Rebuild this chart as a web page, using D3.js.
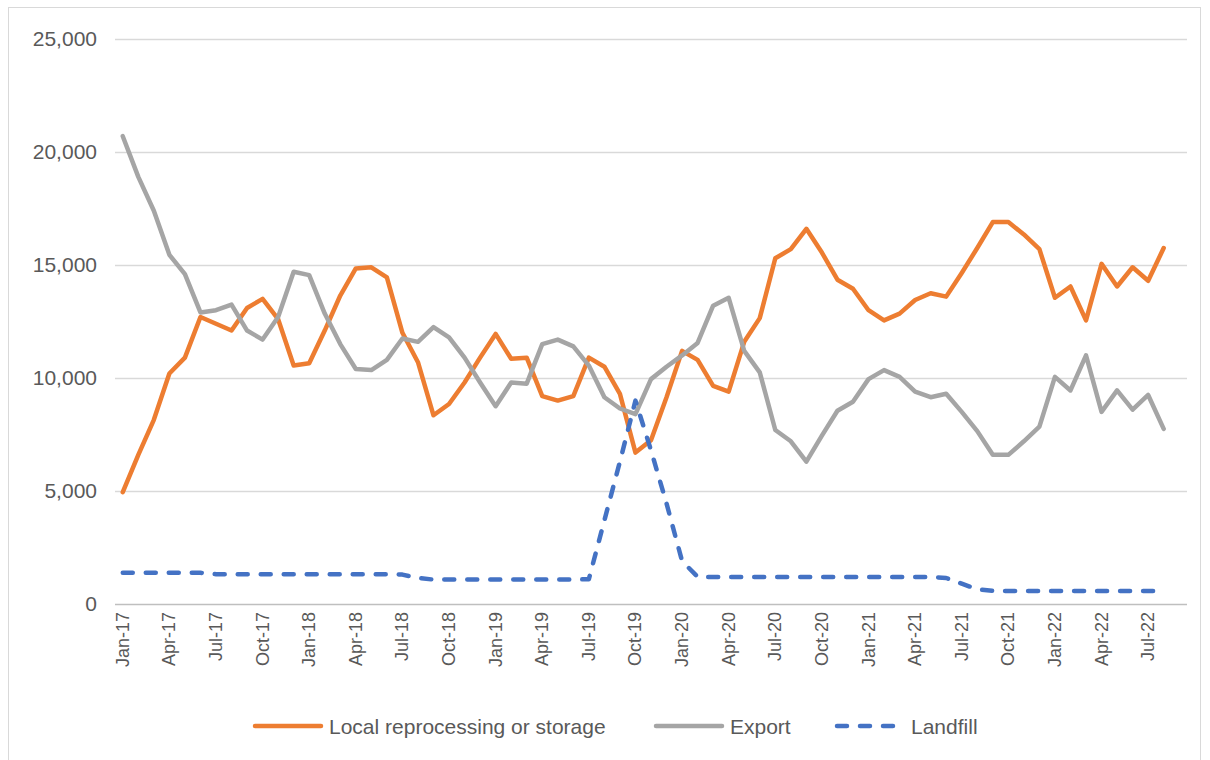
<!DOCTYPE html>
<html>
<head>
<meta charset="utf-8">
<script src="https://cdn.jsdelivr.net/npm/d3@7"></script>
<style>
  body { margin: 0; background: #fff; }
  svg { display: block; }
  text { font-family: "Liberation Sans", Arial, sans-serif; fill: #595959; }
</style>
</head>
<body>
<svg id="chart" width="1210" height="760"></svg>
<script>
// Monthly categories (the final month has no data yet)
const months = [
  "Jan-17","Feb-17","Mar-17","Apr-17","May-17","Jun-17","Jul-17","Aug-17","Sep-17","Oct-17","Nov-17","Dec-17",
  "Jan-18","Feb-18","Mar-18","Apr-18","May-18","Jun-18","Jul-18","Aug-18","Sep-18","Oct-18","Nov-18","Dec-18",
  "Jan-19","Feb-19","Mar-19","Apr-19","May-19","Jun-19","Jul-19","Aug-19","Sep-19","Oct-19","Nov-19","Dec-19",
  "Jan-20","Feb-20","Mar-20","Apr-20","May-20","Jun-20","Jul-20","Aug-20","Sep-20","Oct-20","Nov-20","Dec-20",
  "Jan-21","Feb-21","Mar-21","Apr-21","May-21","Jun-21","Jul-21","Aug-21","Sep-21","Oct-21","Nov-21","Dec-21",
  "Jan-22","Feb-22","Mar-22","Apr-22","May-22","Jun-22","Jul-22","Aug-22","Sep-22"
];

// Labelled months on the horizontal axis
const tickLabels = [
  "Jan-17","Apr-17","Jul-17","Oct-17","Jan-18","Apr-18","Jul-18","Oct-18",
  "Jan-19","Apr-19","Jul-19","Oct-19","Jan-20","Apr-20","Jul-20","Oct-20",
  "Jan-21","Apr-21","Jul-21","Oct-21","Jan-22","Apr-22","Jul-22"
];

const yTicks = [0, 5000, 10000, 15000, 20000, 25000];

// Tonnes per month, Jan-17 .. Aug-22
const localReprocessing = [
  4950, 6600, 8150, 10200, 10900, 12700, 12400, 12100, 13100, 13500, 12600, 10550,
  10650, 12100, 13650, 14850, 14900, 14450, 12000, 10700, 8350, 8850, 9800, 10900,
  11950, 10850, 10900, 9200, 9000, 9200, 10900, 10500, 9300, 6700, 7250, 9150,
  11200, 10800, 9650, 9400, 11600, 12650, 15300, 15700, 16600, 15550, 14350, 13950,
  13000, 12550, 12850, 13450, 13750, 13600, 14650, 15750, 16900, 16900, 16350, 15700,
  13550, 14050, 12550, 15050, 14050, 14900, 14300, 15750
];

const exportTonnes = [
  20700, 18900, 17400, 15450, 14600, 12900, 13000, 13250, 12100, 11700, 12700, 14700,
  14550, 12850, 11500, 10400, 10350, 10800, 11750, 11600, 12250, 11800, 10900, 9800,
  8750, 9800, 9750, 11500, 11700, 11400, 10550, 9150, 8650, 8400, 9950, 10500,
  11000, 11550, 13200, 13550, 11200, 10250, 7700, 7200, 6300, 7450, 8550, 8950,
  9950, 10350, 10050, 9400, 9150, 9300, 8500, 7650, 6600, 6600, 7200, 7850,
  10050, 9450, 11000, 8500, 9450, 8600, 9250, 7750
];

const landfill = [
  1380, 1380, 1380, 1380, 1380, 1380, 1320, 1320, 1320, 1320, 1320, 1320,
  1320, 1320, 1320, 1320, 1320, 1320, 1300, 1150, 1080, 1080, 1080, 1080,
  1080, 1080, 1080, 1080, 1080, 1080, 1100, 3700, 6300, 9000, 6800, 4450,
  1900, 1200, 1200, 1200, 1200, 1200, 1200, 1200, 1200, 1200, 1200, 1200,
  1200, 1200, 1200, 1200, 1200, 1150, 900, 650, 580, 580, 580, 580,
  580, 580, 580, 580, 580, 580, 580, 580
];

const seriesNames = ["Local reprocessing or storage", "Export", "Landfill"];
const seriesColors = ["#ED7D31", "#A5A5A5", "#4472C4"];

const series = [
  { name: seriesNames[0], values: localReprocessing, color: seriesColors[0], dash: null },
  { name: seriesNames[1], values: exportTonnes, color: seriesColors[1], dash: null },
  { name: seriesNames[2], values: landfill, color: seriesColors[2], dash: "10,13" }
];

const svg = d3.select("#chart");
const W = 1210, H = 760;
const plot = { left: 115, right: 1187, top: 39, bottom: 604 };

// Outer chart frame
svg.append("rect")
  .attr("x", 8.5).attr("y", 7.5)
  .attr("width", 1192).attr("height", 770)
  .attr("fill", "#fff")
  .attr("stroke", "#d9d9d9").attr("stroke-width", 1);

const x = d3.scaleBand().domain(months).range([plot.left, plot.right]);
const cx = m => x(m) + x.bandwidth() / 2;
const y = d3.scaleLinear().domain([0, 25000]).range([plot.bottom, plot.top]);

// Horizontal gridlines + value labels
const yAxis = d3.axisLeft(y)
  .tickValues(yTicks)
  .tickSize(-(plot.right - plot.left))
  .tickPadding(18)
  .tickFormat(d3.format(","));
const gy = svg.append("g")
  .attr("transform", `translate(${plot.left},0)`)
  .call(yAxis);
gy.select(".domain").remove();
gy.selectAll(".tick line")
  .attr("stroke", d => d === 0 ? "#bfbfbf" : "#d9d9d9")
  .attr("stroke-width", 1.5);
gy.selectAll(".tick text")
  .attr("font-size", 21)
  .attr("fill", "#595959")
  .attr("font-family", "'Liberation Sans', Arial, sans-serif");

// Category axis with rotated month labels
const xAxis = d3.axisBottom(x)
  .tickValues(tickLabels)
  .tickSize(0)
  .tickPadding(0);
const gx = svg.append("g")
  .attr("transform", `translate(0,${plot.bottom})`)
  .call(xAxis);
gx.select(".domain").remove();
gx.selectAll(".tick text")
  .attr("font-size", 18)
  .attr("fill", "#595959")
  .attr("font-family", "'Liberation Sans', Arial, sans-serif")
  .attr("text-anchor", "end")
  .attr("dy", null)
  .attr("dominant-baseline", "central")
  .attr("transform", "translate(0,8) rotate(-90)")
  .attr("x", 0).attr("y", 0);

// Series lines
const line = d3.line()
  .defined(d => d.v != null)
  .x(d => cx(d.m))
  .y(d => y(d.v));

series.forEach(s => {
  const pts = s.values.map((v, i) => ({ m: months[i], v }));
  const p = svg.append("path")
    .datum(pts)
    .attr("d", line)
    .attr("fill", "none")
    .attr("stroke", s.color)
    .attr("stroke-width", 4.5)
    .attr("stroke-linejoin", "round")
    .attr("stroke-linecap", "round");
  if (s.dash) p.attr("stroke-dasharray", s.dash);
});

// Legend
const legendItems = [
  { s: series[0], x0: 253 },
  { s: series[1], x0: 654 },
  { s: series[2], x0: 835 }
];
const ly = 726;
const lg = svg.append("g");
legendItems.forEach(it => {
  const l = lg.append("line")
    .attr("x1", it.x0 + 2).attr("x2", it.x0 + 68)
    .attr("y1", ly).attr("y2", ly)
    .attr("stroke", it.s.color)
    .attr("stroke-width", 4.5)
    .attr("stroke-linecap", "round");
  if (it.s.dash) l.attr("stroke-dasharray", it.s.dash);
  lg.append("text")
    .attr("x", it.x0 + 76)
    .attr("y", ly)
    .attr("dominant-baseline", "central")
    .attr("font-size", 21)
    .text(it.s.name);
});
</script>
</body>
</html>
